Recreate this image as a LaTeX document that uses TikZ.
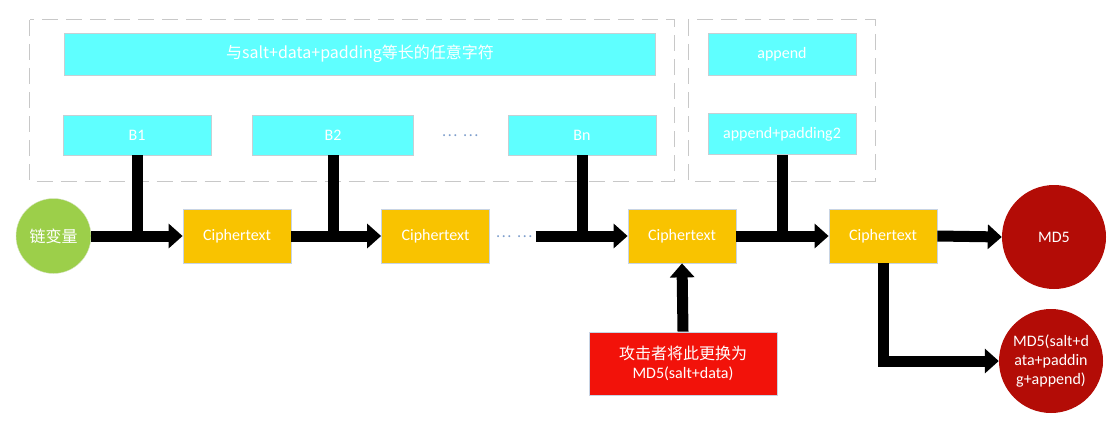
\documentclass[tikz,border=0pt]{standalone}
\usepackage{fontspec}
\setmainfont{Carlito}
\newfontfamily\cjk{Noto Sans CJK SC}
\usetikzlibrary{arrows.meta}
\definecolor{cyanbox}{HTML}{5FFFFF}
\definecolor{cyanline}{HTML}{C4D0D4}
\definecolor{yel}{HTML}{F9C300}
\definecolor{yelline}{HTML}{C8D4E4}
\definecolor{grn}{HTML}{9CCF4A}
\definecolor{redbox}{HTML}{F2120A}
\definecolor{dred}{HTML}{B30C06}
\definecolor{dashgray}{HTML}{C8C8C8}
\definecolor{dotblue}{HTML}{7E9ECC}
\tikzset{
  txt/.style={text=white,font=\fontsize{16}{19}\selectfont,align=center},
  cbox/.style={txt,draw=cyanline,fill=cyanbox,line width=0.8pt,inner sep=0pt},
  ybox/.style={txt,draw=yelline,fill=yel,line width=0.8pt,inner sep=0pt,minimum width=108pt,minimum height=54pt},
  grp/.style={draw=dashgray,line width=1pt,dash pattern=on 16pt off 8pt},
  fat/.style={line width=11pt,-{Triangle[width=24pt,length=14pt]}},
  conn/.style={line width=11pt},
  dotsnode/.style={text=dotblue,font=\cjk\fontsize{15}{16}\selectfont,inner sep=0pt}
}
\begin{document}
\begin{tikzpicture}[x=1pt,y=-1pt]
\useasboundingbox (0,0) rectangle (1113,436);
% groups
\draw[grp] (29.6,20) rectangle (674.6,181);
\draw[grp] (688,20) rectangle (875.7,181);
% top boxes
\node[cbox,minimum width=591pt,minimum height=42pt] (wide) at (360,54) {\cjk 与salt+data+padding等长的任意字符};
\node[cbox,minimum width=148pt,minimum height=40pt] (b1) at (137,135) {B1};
\node[cbox,minimum width=161pt,minimum height=40pt] (b2) at (333,135) {B2};
\node[dotsnode] (dotsb) at (460,136) {…\hspace{5pt}…};
\node[cbox,minimum width=148pt,minimum height=40pt] (bn) at (582,135) {Bn};
\node[cbox,minimum width=148pt,minimum height=42pt] (app) at (782,54) {append};
\node[cbox,minimum width=148pt,minimum height=41pt] (app2) at (782,134) {append+padding2};
% main row
\node[circle,fill=grn,draw=grn!80!black!30,minimum size=75pt,inner sep=0pt,txt,font=\cjk\fontsize{16}{19}\selectfont] (chain) at (53.5,236) {链变量};
\node[ybox] (c1) at (237,236) {Ciphertext};
\node[ybox] (c2) at (435.5,236) {Ciphertext};
\node[dotsnode] (dotsc) at (514,237) {…\hspace{5pt}…};
\node[ybox] (c3) at (682,236) {Ciphertext};
\node[ybox] (c4) at (883,236) {Ciphertext};
\node[circle,fill=dred,minimum size=104pt,inner sep=0pt,txt] (md5) at (1054,237) {MD5};
\node[circle,fill=dred,minimum size=104pt,inner sep=0pt,txt] (md5b) at (1051,361) {MD5(salt+d\\ata+paddin\\g+append)};
\node[txt,fill=redbox,draw=yelline,line width=0.8pt,minimum width=188pt,minimum height=63pt,inner sep=0pt] (red) at (683,363.5) {{\cjk 攻击者将此更换为}\\MD5(salt+data)};
% junctions
\coordinate (j1) at (b1.south |- c1.west);
\coordinate (j2) at (b2.south |- c2.west);
\coordinate (jn) at (bn.south |- c3.west);
\coordinate (ja) at (app2.south |- c4.west);
% connectors
\draw[conn] (b1.south) -- (j1);
\draw[conn] (b2.south) -- (j2);
\draw[conn] (bn.south) -- (jn);
\draw[conn] (app2.south) -- (ja);
\draw[fat] (chain.east) -- (c1.west);
\draw[fat] (c1.east) -- (c2.west);
\draw[fat] (dotsc.east) ++(3,-1) -- (c3.west);
\draw[fat] (c3.east) -- (c4.west);
\draw[fat] (c4.east) -- (md5.west);
\draw[fat] (red.north) -- (c3.south);
\draw[fat] (c4.south) |- (md5b.west);
\end{tikzpicture}
\end{document}
